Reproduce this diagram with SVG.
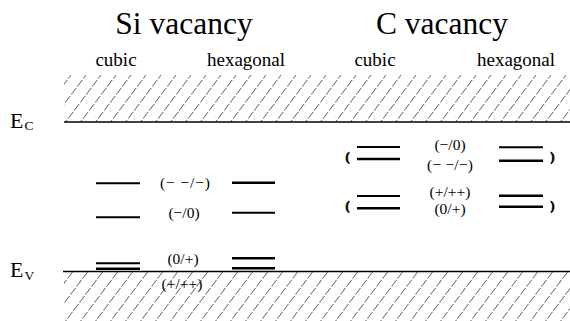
<svg xmlns="http://www.w3.org/2000/svg" width="570" height="321" viewBox="0 0 570 321">
<style>
text{font-family:"Liberation Serif","Times New Roman",serif;fill:#000}
.title{font-size:31.5px;text-anchor:middle}
.sub{font-size:19px;text-anchor:middle}
.lbl{font-size:15.5px;text-anchor:middle}
.E{font-size:22px}
.Es{font-size:13.5px}
.br{font-size:12px;font-weight:bold;text-anchor:middle;stroke:#000;stroke-width:0.7}
.edge{stroke:#000;stroke-width:1.5;fill:none}
.lv{stroke:#000;stroke-width:2;fill:none}
.lvh{stroke:#000;stroke-width:2.5;fill:none}
</style>
<defs>
<pattern id="hatch" patternUnits="userSpaceOnUse" width="15" height="8" patternTransform="skewX(-37)">
<line x1="7.5" y1="0" x2="7.5" y2="6.5" stroke="#333" stroke-width="0.8"/>
</pattern>
</defs>
<g id="bands">
<rect x="64" y="75" width="506" height="47" fill="url(#hatch)"/>
<rect x="64" y="272" width="506" height="49" fill="url(#hatch)"/>
<line class="edge" x1="64" y1="122" x2="570" y2="122"/>
<line class="edge" x1="63" y1="271.5" x2="570" y2="271.5"/>
</g>
<g id="titles">
<text class="title" x="184" y="34">Si vacancy</text>
<text class="title" x="442" y="34">C vacancy</text>
<text class="sub" x="116" y="66">cubic</text>
<text class="sub" x="246" y="66">hexagonal</text>
<text class="sub" x="375" y="66">cubic</text>
<text class="sub" x="516" y="66">hexagonal</text>
</g>
<g id="Ec"><text class="E" x="10" y="128">E</text><text class="Es" x="24.5" y="130">C</text></g>
<g id="Ev"><text class="E" x="10" y="277">E</text><text class="Es" x="24.5" y="280">V</text></g>
<g id="si-levels">
<line class="lv" x1="96" y1="183.3" x2="140" y2="183.3"/>
<line class="lv" x1="96" y1="217.3" x2="140" y2="217.3"/>
<line class="lv" x1="96" y1="263.3" x2="140" y2="263.3"/>
<line class="lvh" x1="96" y1="268.8" x2="140" y2="268.8"/>
<line class="lvh" x1="232" y1="182.7" x2="275" y2="182.7"/>
<line class="lv" x1="232" y1="212.7" x2="275" y2="212.7"/>
<line class="lvh" x1="232" y1="258.3" x2="275" y2="258.3"/>
<line class="lvh" x1="232" y1="268.3" x2="275" y2="268.3"/>
<text class="lbl" x="185" y="187.5" textLength="50" lengthAdjust="spacing">(− −/−)</text>
<text class="lbl" x="184" y="217.5">(−/0)</text>
<text class="lbl" x="183" y="264">(0/+)</text>
<text class="lbl" x="182" y="289">(+/++)</text>
</g>
<g id="c-levels">
<line class="lv" x1="357" y1="147" x2="400" y2="147"/>
<line class="lvh" x1="357" y1="159" x2="400" y2="159"/>
<line class="lv" x1="357" y1="196" x2="400" y2="196"/>
<line class="lvh" x1="357" y1="208.3" x2="400" y2="208.3"/>
<line class="lv" x1="499" y1="147.3" x2="543" y2="147.3"/>
<line class="lvh" x1="499" y1="160.7" x2="543" y2="160.7"/>
<line class="lvh" x1="499" y1="195.7" x2="543" y2="195.7"/>
<line class="lvh" x1="499" y1="206.7" x2="543" y2="206.7"/>
<text class="br" x="347.5" y="161">(</text>
<text class="br" x="347.5" y="209.5">(</text>
<text class="br" x="552.5" y="161">)</text>
<text class="br" x="552.5" y="209.5">)</text>
<text class="lbl" x="450" y="150">(−/0)</text>
<text class="lbl" x="450" y="169.5" textLength="46" lengthAdjust="spacing">(− −/−)</text>
<text class="lbl" x="450" y="197">(+/++)</text>
<text class="lbl" x="450" y="214">(0/+)</text>
</g>
</svg>
